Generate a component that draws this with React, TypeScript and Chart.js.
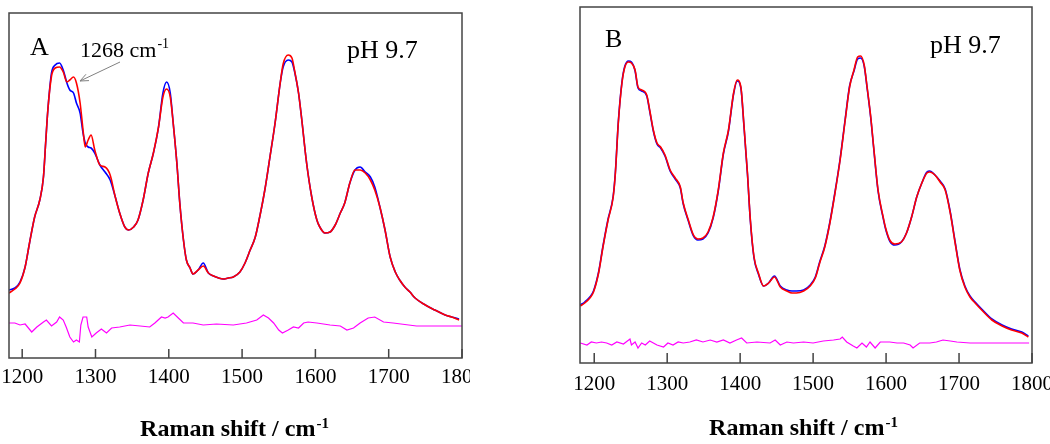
import React, { useEffect, useRef } from "react";
import { Chart, registerables } from "chart.js";

Chart.register(...registerables);

// ---------- Data (Raman shift, cm-1; intensity in arbitrary units) ----------
const xTicks = [1200, 1300, 1400, 1500, 1600, 1700, 1800];

// Panel A
const wnA = [1182,1190,1197,1204,1210,1217,1224,1229,1232,1235,1240,1245,1251,1256,1261,1265,1270,1274,1279,1283,1286,1290,1294,1299,1306,1313,1320,1327,1333,1340,1345,1352,1358,1365,1372,1379,1386,1392,1397,1402,1406,1411,1415,1420,1424,1429,1433,1440,1447,1454,1461,1468,1474,1481,1488,1497,1504,1511,1518,1524,1531,1538,1545,1552,1556,1563,1568,1572,1577,1581,1588,1595,1602,1606,1613,1620,1627,1634,1640,1647,1654,1661,1668,1675,1681,1688,1695,1702,1709,1715,1722,1729,1736,1750,1763,1777,1786,1796];
const blueA = [68,70,76,91,115,141,158,181,215,248,285,293,295,288,275,268,265,255,245,225,215,211,210,205,193,186,178,161,145,131,128,131,138,158,185,205,231,265,276,265,235,195,155,118,98,90,84,88,95,85,82,80,79,80,81,86,95,108,121,141,168,201,235,275,291,298,296,285,265,241,195,161,138,131,125,126,133,145,155,175,188,191,186,181,171,151,128,101,86,78,71,66,60,53,48,43,41,39];
const redA = [65,69,75,91,115,141,158,181,215,248,282,290,291,286,276,278,281,275,255,228,211,218,223,208,193,191,183,161,145,131,128,131,138,158,185,205,231,261,269,261,235,195,155,118,98,90,84,88,92,85,82,80,79,80,81,86,95,108,121,141,168,201,235,275,294,303,300,286,265,241,195,161,138,131,125,126,133,145,155,175,188,188,185,178,168,151,128,101,86,78,71,66,60,53,48,43,41,38];
const wnDiffA = [1182,1190,1197,1204,1213,1220,1229,1233,1240,1247,1251,1256,1260,1265,1270,1274,1278,1280,1283,1288,1290,1295,1301,1308,1315,1322,1333,1347,1361,1374,1381,1390,1395,1399,1406,1413,1420,1433,1447,1465,1488,1506,1520,1529,1536,1543,1550,1555,1563,1570,1577,1584,1590,1602,1620,1634,1643,1652,1661,1672,1681,1693,1706,1738,1770,1800];
const diffA = [35,35,33,34,26,31,36,38,32,36,41,38,31,21,16,18,16,33,41,41,31,21,25,29,25,30,31,33,32,31,35,41,40,41,45,40,35,35,33,34,33,35,38,43,40,35,28,25,28,31,30,35,36,35,33,32,28,30,35,40,41,36,35,32,32,32];

// Panel B
const wnB = [1181,1187,1194,1199,1206,1212,1219,1226,1229,1233,1238,1242,1247,1251,1256,1260,1265,1272,1276,1281,1286,1291,1297,1304,1311,1318,1322,1329,1336,1342,1349,1356,1363,1370,1377,1384,1391,1396,1401,1405,1410,1414,1419,1425,1432,1439,1447,1455,1464,1471,1477,1487,1496,1503,1509,1516,1523,1530,1537,1544,1550,1556,1561,1565,1570,1574,1579,1583,1589,1596,1599,1605,1612,1621,1628,1635,1642,1649,1656,1660,1667,1674,1681,1688,1694,1701,1708,1715,1722,1731,1745,1759,1772,1786,1795];
const blueB = [58,61,66,72,91,117,144,167,191,241,281,297,302,301,292,275,272,267,252,232,219,215,207,192,184,175,159,142,127,123,124,130,145,172,209,232,269,282,275,239,189,142,105,89,77,80,87,77,73,72,72,73,78,86,101,117,141,171,204,244,277,292,304,305,297,275,245,215,172,145,135,122,118,121,130,146,166,180,191,192,188,182,174,151,124,94,77,67,61,54,44,38,34,31,27];
const redB = [57,60,65,71,90,116,143,166,190,240,280,296,301,300,293,276,273,268,253,233,220,216,208,193,185,176,160,143,128,124,125,131,146,173,210,233,270,283,276,240,190,143,106,90,77,80,86,76,72,70,70,72,77,85,100,116,140,170,203,243,276,293,306,307,298,276,246,216,173,146,136,123,119,121,130,146,166,180,190,191,188,181,173,150,123,93,76,66,60,53,43,37,33,30,26];
const wnDiffB = [1181,1190,1196,1203,1210,1217,1224,1231,1240,1249,1251,1256,1260,1265,1270,1276,1286,1295,1301,1308,1315,1322,1331,1340,1349,1359,1368,1377,1386,1395,1402,1409,1423,1441,1448,1455,1464,1473,1487,1500,1514,1528,1537,1540,1546,1555,1560,1567,1573,1578,1585,1592,1605,1615,1624,1633,1637,1646,1660,1669,1678,1688,1697,1715,1738,1761,1796];
const diffB = [20,18,21,20,21,20,18,21,19,24,18,21,15,20,18,22,18,16,20,18,21,20,21,23,21,23,21,23,20,23,25,20,21,20,23,18,21,20,21,20,22,23,24,26,21,17,15,20,16,21,15,21,21,20,20,18,15,20,20,21,23,22,21,20,20,20,20];

// ---------- Styling ----------
const FONT = '"Liberation Serif", "Times New Roman", serif';
const FRAME = "#444444";

function pts(xs: number[], ys: number[]) {
  return xs.map((x, i) => ({ x, y: ys[i] }));
}

function drawSup(ctx: CanvasRenderingContext2D, main: string, sup: string, mainFont: string, supFont: string, x: number, y: number, raise: number, center: boolean) {
  ctx.font = mainFont;
  const w1 = ctx.measureText(main).width;
  ctx.font = supFont;
  const w2 = ctx.measureText(sup).width;
  const x0 = center ? x - (w1 + w2) / 2 : x;
  ctx.font = mainFont;
  ctx.fillText(main, x0, y);
  ctx.font = supFont;
  ctx.fillText(sup, x0 + w1 + 1, y - raise);
}

const decoPlugin = {
  id: "deco",
  afterDraw(chart: any, _args: any, o: any) {
    const { ctx, chartArea: ca } = chart;
    const xs = chart.scales.x;
    ctx.save();
    ctx.strokeStyle = FRAME;
    ctx.lineWidth = 1.5;
    ctx.strokeRect(ca.left, ca.top, ca.right - ca.left, ca.bottom - ca.top);
    ctx.beginPath();
    for (const v of xTicks) {
      const p = xs.getPixelForValue(v);
      if (p < ca.left - 0.5 || p > ca.right + 0.5) continue;
      ctx.moveTo(p, ca.bottom);
      ctx.lineTo(p, ca.bottom - o.tickLen);
    }
    ctx.stroke();

    ctx.fillStyle = "#000";
    ctx.textBaseline = "alphabetic";
    ctx.textAlign = "left";
    ctx.font = `26px ${FONT}`;
    ctx.fillText(o.letter, o.letterX, o.letterY);
    ctx.fillText(o.ph, o.phX, o.phY);

    if (o.note) {
      drawSup(ctx, o.note, "-1", `22px ${FONT}`, `14px ${FONT}`, o.noteX, o.noteY, 9, false);
      ctx.strokeStyle = "#808080";
      ctx.lineWidth = 1;
      const x1 = o.arrowFromX, y1 = o.arrowFromY, x2 = o.arrowToX, y2 = o.arrowToY;
      ctx.beginPath();
      ctx.moveTo(x1, y1);
      ctx.lineTo(x2, y2);
      const ang = Math.atan2(y2 - y1, x2 - x1);
      const L = 9, spread = 0.4;
      ctx.moveTo(x2, y2);
      ctx.lineTo(x2 - L * Math.cos(ang - spread), y2 - L * Math.sin(ang - spread));
      ctx.moveTo(x2, y2);
      ctx.lineTo(x2 - L * Math.cos(ang + spread), y2 - L * Math.sin(ang + spread));
      ctx.stroke();
    }

    ctx.fillStyle = "#000";
    drawSup(ctx, "Raman shift / cm", "-1", `bold 24px ${FONT}`, `bold 15px ${FONT}`, o.titleX, o.titleY, 8, true);
    ctx.restore();
  },
};

type PanelProps = {
  left: number;
  width: number;
  xMin: number;
  yMax: number;
  pad: { left: number; right: number; top: number };
  axisH: number;
  tickPad: number;
  wn: number[];
  blue: number[];
  red: number[];
  wnDiff: number[];
  diff: number[];
  deco: any;
};

function Panel(p: PanelProps) {
  const ref = useRef<HTMLCanvasElement>(null);
  useEffect(() => {
    if (!ref.current) return;
    const chart = new Chart(ref.current, {
      type: "line",
      data: {
        datasets: [
          { label: "red", data: pts(p.wn, p.red), borderColor: "#ff0000", borderWidth: 1.6, pointRadius: 0, cubicInterpolationMode: "monotone", fill: false },
          { label: "blue", data: pts(p.wn, p.blue), borderColor: "#0000ff", borderWidth: 1.6, pointRadius: 0, cubicInterpolationMode: "monotone", fill: false },
          { label: "difference", data: pts(p.wnDiff, p.diff), borderColor: "#ff00ff", borderWidth: 1.2, pointRadius: 0, tension: 0, fill: false },
        ],
      },
      options: {
        responsive: false,
        animation: false,
        events: [],
        layout: { padding: { left: p.pad.left, right: p.pad.right, top: p.pad.top, bottom: 0 } },
        scales: {
          x: {
            type: "linear",
            min: p.xMin,
            max: 1800,
            grid: { display: false, drawTicks: false, tickLength: 0 },
            border: { display: false },
            ticks: {
              padding: p.tickPad,
              autoSkip: false,
              maxRotation: 0,
              minRotation: 0,
              color: "#000",
              font: { family: FONT, size: 21 },
              callback: (v: any) => String(v),
            },
            afterBuildTicks: (s: any) => {
              s.ticks = xTicks.map((v) => ({ value: v }));
            },
            afterFit: (s: any) => {
              s.height = p.axisH;
              s.paddingLeft = 0;
              s.paddingRight = 0;
            },
          },
          y: { type: "linear", display: false, min: 0, max: p.yMax },
        },
        plugins: {
          legend: { display: false },
          tooltip: { enabled: false },
          deco: p.deco,
        } as any,
      },
      plugins: [decoPlugin],
    });
    return () => chart.destroy();
  }, []);
  return (
    <canvas
      ref={ref}
      width={p.width}
      height={444}
      style={{ position: "absolute", left: p.left, top: 0, width: p.width, height: 444 }}
    />
  );
}

export default function App() {
  return (
    <div style={{ position: "absolute", left: 0, top: 0, width: 1050, height: 444, background: "#fff", overflow: "hidden" }}>
      <Panel
        left={0}
        width={470}
        xMin={1182}
        yMax={345}
        pad={{ left: 9, right: 8, top: 13 }}
        axisH={86}
        tickPad={7}
        wn={wnA}
        blue={blueA}
        red={redA}
        wnDiff={wnDiffA}
        diff={diffA}
        deco={{
          tickLen: 9,
          letter: "A", letterX: 30, letterY: 55,
          ph: "pH 9.7", phX: 347, phY: 58,
          note: "1268 cm", noteX: 80, noteY: 57,
          arrowFromX: 120, arrowFromY: 62, arrowToX: 80, arrowToY: 81,
          titleX: 234, titleY: 436,
        }}
      />
      <Panel
        left={570}
        width={480}
        xMin={1180.5}
        yMax={356}
        pad={{ left: 10, right: 18, top: 7 }}
        axisH={81}
        tickPad={9}
        wn={wnB}
        blue={blueB}
        red={redB}
        wnDiff={wnDiffB}
        diff={diffB}
        deco={{
          tickLen: 10,
          letter: "B", letterX: 35, letterY: 47,
          ph: "pH 9.7", phX: 360, phY: 53,
          note: "",
          titleX: 233, titleY: 435,
        }}
      />
    </div>
  );
}
